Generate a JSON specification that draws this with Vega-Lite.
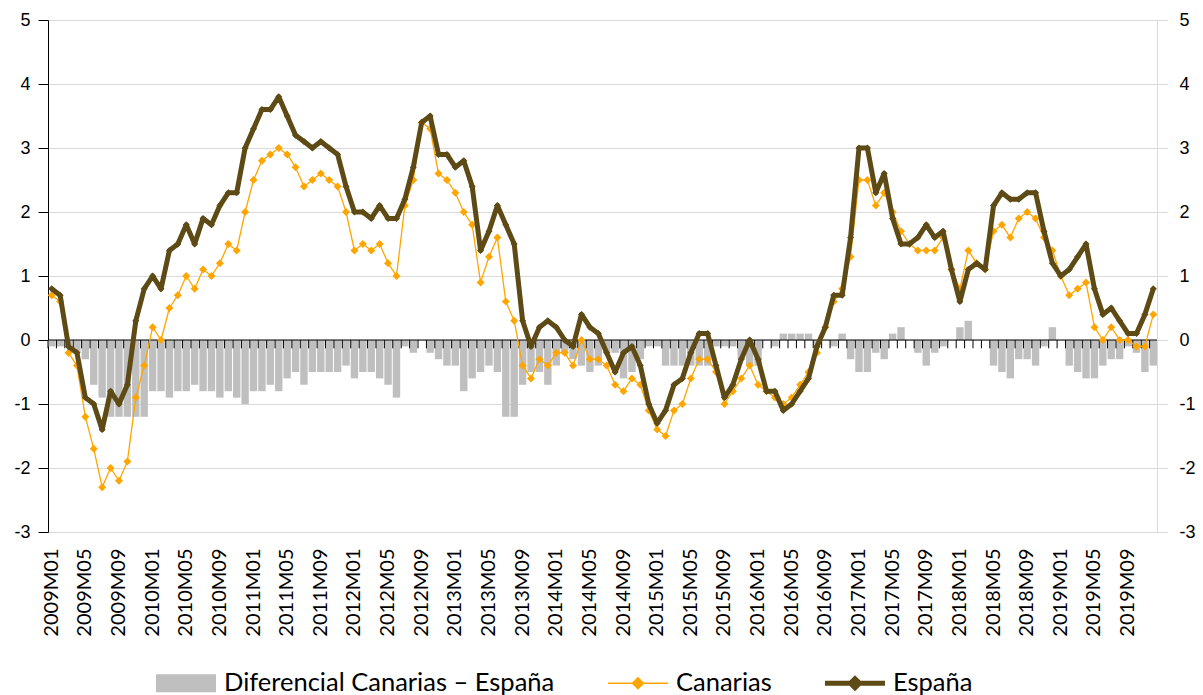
{
  "$schema": "https://vega.github.io/schema/vega-lite/v6.json",
  "width": 1109,
  "height": 512,
  "autosize": {"type": "none"},
  "padding": {"left": 48, "top": 20, "right": 46, "bottom": 163},
  "background": "white",
  "config": {"view": {"stroke": null}, "font": "Lato",
    "locale": {"number": {"decimal": ".", "thousands": ",", "grouping": [3], "currency": ["", ""], "minus": "-"}}},
  "data": {"values": [
    {"m":"2009M01","e":0.8,"c":0.7,"d":-0.1},{"m":"2009M02","e":0.7,"c":0.6,"d":-0.1},{"m":"2009M03","e":-0.1,"c":-0.2,"d":-0.1},{"m":"2009M04","e":-0.2,"c":-0.4,"d":-0.2},{"m":"2009M05","e":-0.9,"c":-1.2,"d":-0.3},{"m":"2009M06","e":-1.0,"c":-1.7,"d":-0.7},{"m":"2009M07","e":-1.4,"c":-2.3,"d":-0.9},{"m":"2009M08","e":-0.8,"c":-2.0,"d":-1.2},{"m":"2009M09","e":-1.0,"c":-2.2,"d":-1.2},{"m":"2009M10","e":-0.7,"c":-1.9,"d":-1.2},{"m":"2009M11","e":0.3,"c":-0.9,"d":-1.2},{"m":"2009M12","e":0.8,"c":-0.4,"d":-1.2},
    {"m":"2010M01","e":1.0,"c":0.2,"d":-0.8},{"m":"2010M02","e":0.8,"c":0.0,"d":-0.8},{"m":"2010M03","e":1.4,"c":0.5,"d":-0.9},{"m":"2010M04","e":1.5,"c":0.7,"d":-0.8},{"m":"2010M05","e":1.8,"c":1.0,"d":-0.8},{"m":"2010M06","e":1.5,"c":0.8,"d":-0.7},{"m":"2010M07","e":1.9,"c":1.1,"d":-0.8},{"m":"2010M08","e":1.8,"c":1.0,"d":-0.8},{"m":"2010M09","e":2.1,"c":1.2,"d":-0.9},{"m":"2010M10","e":2.3,"c":1.5,"d":-0.8},{"m":"2010M11","e":2.3,"c":1.4,"d":-0.9},{"m":"2010M12","e":3.0,"c":2.0,"d":-1.0},
    {"m":"2011M01","e":3.3,"c":2.5,"d":-0.8},{"m":"2011M02","e":3.6,"c":2.8,"d":-0.8},{"m":"2011M03","e":3.6,"c":2.9,"d":-0.7},{"m":"2011M04","e":3.8,"c":3.0,"d":-0.8},{"m":"2011M05","e":3.5,"c":2.9,"d":-0.6},{"m":"2011M06","e":3.2,"c":2.7,"d":-0.5},{"m":"2011M07","e":3.1,"c":2.4,"d":-0.7},{"m":"2011M08","e":3.0,"c":2.5,"d":-0.5},{"m":"2011M09","e":3.1,"c":2.6,"d":-0.5},{"m":"2011M10","e":3.0,"c":2.5,"d":-0.5},{"m":"2011M11","e":2.9,"c":2.4,"d":-0.5},{"m":"2011M12","e":2.4,"c":2.0,"d":-0.4},
    {"m":"2012M01","e":2.0,"c":1.4,"d":-0.6},{"m":"2012M02","e":2.0,"c":1.5,"d":-0.5},{"m":"2012M03","e":1.9,"c":1.4,"d":-0.5},{"m":"2012M04","e":2.1,"c":1.5,"d":-0.6},{"m":"2012M05","e":1.9,"c":1.2,"d":-0.7},{"m":"2012M06","e":1.9,"c":1.0,"d":-0.9},{"m":"2012M07","e":2.2,"c":2.1,"d":-0.1},{"m":"2012M08","e":2.7,"c":2.5,"d":-0.2},{"m":"2012M09","e":3.4,"c":3.4,"d":0.0},{"m":"2012M10","e":3.5,"c":3.3,"d":-0.2},{"m":"2012M11","e":2.9,"c":2.6,"d":-0.3},{"m":"2012M12","e":2.9,"c":2.5,"d":-0.4},
    {"m":"2013M01","e":2.7,"c":2.3,"d":-0.4},{"m":"2013M02","e":2.8,"c":2.0,"d":-0.8},{"m":"2013M03","e":2.4,"c":1.8,"d":-0.6},{"m":"2013M04","e":1.4,"c":0.9,"d":-0.5},{"m":"2013M05","e":1.7,"c":1.3,"d":-0.4},{"m":"2013M06","e":2.1,"c":1.6,"d":-0.5},{"m":"2013M07","e":1.8,"c":0.6,"d":-1.2},{"m":"2013M08","e":1.5,"c":0.3,"d":-1.2},{"m":"2013M09","e":0.3,"c":-0.4,"d":-0.7},{"m":"2013M10","e":-0.1,"c":-0.6,"d":-0.5},{"m":"2013M11","e":0.2,"c":-0.3,"d":-0.5},{"m":"2013M12","e":0.3,"c":-0.4,"d":-0.7},
    {"m":"2014M01","e":0.2,"c":-0.2,"d":-0.4},{"m":"2014M02","e":0.0,"c":-0.2,"d":-0.2},{"m":"2014M03","e":-0.1,"c":-0.4,"d":-0.3},{"m":"2014M04","e":0.4,"c":0.0,"d":-0.4},{"m":"2014M05","e":0.2,"c":-0.3,"d":-0.5},{"m":"2014M06","e":0.1,"c":-0.3,"d":-0.4},{"m":"2014M07","e":-0.2,"c":-0.4,"d":-0.2},{"m":"2014M08","e":-0.5,"c":-0.7,"d":-0.2},{"m":"2014M09","e":-0.2,"c":-0.8,"d":-0.6},{"m":"2014M10","e":-0.1,"c":-0.6,"d":-0.5},{"m":"2014M11","e":-0.4,"c":-0.7,"d":-0.3},{"m":"2014M12","e":-1.0,"c":-1.1,"d":-0.1},
    {"m":"2015M01","e":-1.3,"c":-1.4,"d":-0.1},{"m":"2015M02","e":-1.1,"c":-1.5,"d":-0.4},{"m":"2015M03","e":-0.7,"c":-1.1,"d":-0.4},{"m":"2015M04","e":-0.6,"c":-1.0,"d":-0.4},{"m":"2015M05","e":-0.2,"c":-0.6,"d":-0.4},{"m":"2015M06","e":0.1,"c":-0.3,"d":-0.4},{"m":"2015M07","e":0.1,"c":-0.3,"d":-0.4},{"m":"2015M08","e":-0.4,"c":-0.5,"d":-0.1},{"m":"2015M09","e":-0.9,"c":-1.0,"d":-0.1},{"m":"2015M10","e":-0.7,"c":-0.8,"d":-0.1},{"m":"2015M11","e":-0.3,"c":-0.6,"d":-0.3},{"m":"2015M12","e":0.0,"c":-0.4,"d":-0.4},
    {"m":"2016M01","e":-0.3,"c":-0.7,"d":-0.4},{"m":"2016M02","e":-0.8,"c":-0.8,"d":0.0},{"m":"2016M03","e":-0.8,"c":-0.9,"d":-0.1},{"m":"2016M04","e":-1.1,"c":-1.0,"d":0.1},{"m":"2016M05","e":-1.0,"c":-0.9,"d":0.1},{"m":"2016M06","e":-0.8,"c":-0.7,"d":0.1},{"m":"2016M07","e":-0.6,"c":-0.5,"d":0.1},{"m":"2016M08","e":-0.1,"c":-0.2,"d":-0.1},{"m":"2016M09","e":0.2,"c":0.2,"d":0.0},{"m":"2016M10","e":0.7,"c":0.6,"d":-0.1},{"m":"2016M11","e":0.7,"c":0.8,"d":0.1},{"m":"2016M12","e":1.6,"c":1.3,"d":-0.3},
    {"m":"2017M01","e":3.0,"c":2.5,"d":-0.5},{"m":"2017M02","e":3.0,"c":2.5,"d":-0.5},{"m":"2017M03","e":2.3,"c":2.1,"d":-0.2},{"m":"2017M04","e":2.6,"c":2.3,"d":-0.3},{"m":"2017M05","e":1.9,"c":2.0,"d":0.1},{"m":"2017M06","e":1.5,"c":1.7,"d":0.2},{"m":"2017M07","e":1.5,"c":1.5,"d":0.0},{"m":"2017M08","e":1.6,"c":1.4,"d":-0.2},{"m":"2017M09","e":1.8,"c":1.4,"d":-0.4},{"m":"2017M10","e":1.6,"c":1.4,"d":-0.2},{"m":"2017M11","e":1.7,"c":1.6,"d":-0.1},{"m":"2017M12","e":1.1,"c":1.1,"d":0.0},
    {"m":"2018M01","e":0.6,"c":0.8,"d":0.2},{"m":"2018M02","e":1.1,"c":1.4,"d":0.3},{"m":"2018M03","e":1.2,"c":1.2,"d":0.0},{"m":"2018M04","e":1.1,"c":1.1,"d":0.0},{"m":"2018M05","e":2.1,"c":1.7,"d":-0.4},{"m":"2018M06","e":2.3,"c":1.8,"d":-0.5},{"m":"2018M07","e":2.2,"c":1.6,"d":-0.6},{"m":"2018M08","e":2.2,"c":1.9,"d":-0.3},{"m":"2018M09","e":2.3,"c":2.0,"d":-0.3},{"m":"2018M10","e":2.3,"c":1.9,"d":-0.4},{"m":"2018M11","e":1.7,"c":1.6,"d":-0.1},{"m":"2018M12","e":1.2,"c":1.4,"d":0.2},
    {"m":"2019M01","e":1.0,"c":1.0,"d":0.0},{"m":"2019M02","e":1.1,"c":0.7,"d":-0.4},{"m":"2019M03","e":1.3,"c":0.8,"d":-0.5},{"m":"2019M04","e":1.5,"c":0.9,"d":-0.6},{"m":"2019M05","e":0.8,"c":0.2,"d":-0.6},{"m":"2019M06","e":0.4,"c":0.0,"d":-0.4},{"m":"2019M07","e":0.5,"c":0.2,"d":-0.3},{"m":"2019M08","e":0.3,"c":0.0,"d":-0.3},{"m":"2019M09","e":0.1,"c":0.0,"d":-0.1},{"m":"2019M10","e":0.1,"c":-0.1,"d":-0.2},{"m":"2019M11","e":0.4,"c":-0.1,"d":-0.5},{"m":"2019M12","e":0.8,"c":0.4,"d":-0.4}
  ]},
  "layer": [
    {
      "mark": {"type": "bar"},
      "encoding": {
        "x": {"field": "m", "type": "ordinal", "sort": null,
          "scale": {"paddingInner": 0.12, "paddingOuter": 0},
          "axis": {"orient": "bottom", "title": null, "grid": false, "domain": false, "ticks": false,
            "values": ["2009M01","2009M05","2009M09","2010M01","2010M05","2010M09","2011M01","2011M05","2011M09","2012M01","2012M05","2012M09","2013M01","2013M05","2013M09","2014M01","2014M05","2014M09","2015M01","2015M05","2015M09","2016M01","2016M05","2016M09","2017M01","2017M05","2017M09","2018M01","2018M05","2018M09","2019M01","2019M05","2019M09"],
            "labelAngle": 270, "labelPadding": 16, "labelFont": "Lato", "labelFontSize": 20, "labelColor": "#000000", "labelOverlap": false}},
        "y": {"field": "d", "type": "quantitative",
          "scale": {"domain": [-3, 5], "nice": false, "zero": false},
          "axis": {"orient": "left", "title": null, "values": [-3,-2,-1,0,1,2,3,4,5], "grid": true, "gridColor": "#d9d9d9", "gridWidth": 1,
            "domainColor": "#000000", "tickColor": "#000000", "tickSize": 10, "labelPadding": 8,
            "labelFont": "Liberation Sans", "labelFontSize": 18, "labelColor": "#000000"}},
        "color": {"datum": "Diferencial Canarias – España", "type": "nominal",
          "scale": {"domain": ["Diferencial Canarias – España", "Canarias", "España"], "range": ["#BFBFBF", "#FFA500", "#5E4A15"]},
          "legend": {"orient": "none", "legendX": 108, "legendY": 633, "direction": "horizontal", "title": null,
            "symbolSize": 3600, "labelFont": "Lato", "labelFontSize": 25.5, "labelColor": "#000000", "labelOffset": 8,
            "columnPadding": 53, "padding": 0, "labelLimit": 500,
            "encode": {"symbols": {"update": {
              "shape": {"signal": "datum.value === 'Canarias' ? 'M-1,-0.025L1,-0.025L1,0.025L-1,0.025Z M-0.22,0L0,-0.22L0.22,0L0,0.22Z' : (datum.value === 'España' ? 'M-1,-0.08L1,-0.08L1,0.08L-1,0.08Z M-0.27,0L0,-0.27L0.27,0L0,0.27Z' : 'M-1,-0.3L1,-0.3L1,0.3L-1,0.3Z')"},
              "fill": {"signal": "datum.value === 'Canarias' ? '#FFA500' : (datum.value === 'España' ? '#5E4A15' : '#BFBFBF')"},
              "stroke": {"value": "transparent"},
              "strokeWidth": {"value": 0},
              "opacity": {"value": 1},
              "fillOpacity": {"value": 1},
              "size": {"value": 3600}
            }}}}}
      }
    },
    {
      "data": {"values": [{}]},
      "mark": {"type": "rule", "color": "#000000", "strokeWidth": 1},
      "encoding": {
        "y": {"datum": 0, "type": "quantitative", "scale": {"domain": [-3, 5], "nice": false, "zero": false}, "axis": null}
      }
    },
    {
      "mark": {"type": "rule", "color": "#000000", "strokeWidth": 1},
      "encoding": {
        "x": {"field": "m", "type": "ordinal", "sort": null, "bandPosition": 0},
        "y": {"datum": 0, "type": "quantitative", "scale": {"domain": [-3, 5], "nice": false, "zero": false}, "axis": null},
        "y2": {"datum": -0.13}
      }
    },
    {
      "mark": {"type": "line", "strokeWidth": 1.3, "strokeJoin": "round"},
      "encoding": {
        "x": {"field": "m", "type": "ordinal", "sort": null},
        "y": {"field": "c", "type": "quantitative",
          "scale": {"domain": [-3, 5], "nice": false, "zero": false},
          "axis": {"orient": "right", "title": null, "values": [-3,-2,-1,0,1,2,3,4,5], "grid": false,
            "domainColor": "#d9d9d9", "tickColor": "#d9d9d9", "tickSize": 10, "labelPadding": 12,
            "labelFont": "Liberation Sans", "labelFontSize": 18, "labelColor": "#000000"}},
        "color": {"datum": "Canarias", "type": "nominal"}
      }
    },
    {
      "mark": {"type": "point", "shape": "diamond", "filled": true, "size": 64, "opacity": 1},
      "encoding": {
        "x": {"field": "m", "type": "ordinal", "sort": null},
        "y": {"field": "c", "type": "quantitative", "scale": {"domain": [-3, 5], "nice": false, "zero": false}, "axis": null},
        "color": {"datum": "Canarias", "type": "nominal"}
      }
    },
    {
      "mark": {"type": "line", "strokeWidth": 5, "strokeJoin": "round"},
      "encoding": {
        "x": {"field": "m", "type": "ordinal", "sort": null},
        "y": {"field": "e", "type": "quantitative", "scale": {"domain": [-3, 5], "nice": false, "zero": false}, "axis": null},
        "color": {"datum": "España", "type": "nominal"}
      }
    },
    {
      "mark": {"type": "point", "shape": "diamond", "filled": true, "size": 49, "opacity": 1},
      "encoding": {
        "x": {"field": "m", "type": "ordinal", "sort": null},
        "y": {"field": "e", "type": "quantitative", "scale": {"domain": [-3, 5], "nice": false, "zero": false}, "axis": null},
        "color": {"datum": "España", "type": "nominal"}
      }
    }
  ],
  "resolve": {"scale": {"y": "independent"}}
}
